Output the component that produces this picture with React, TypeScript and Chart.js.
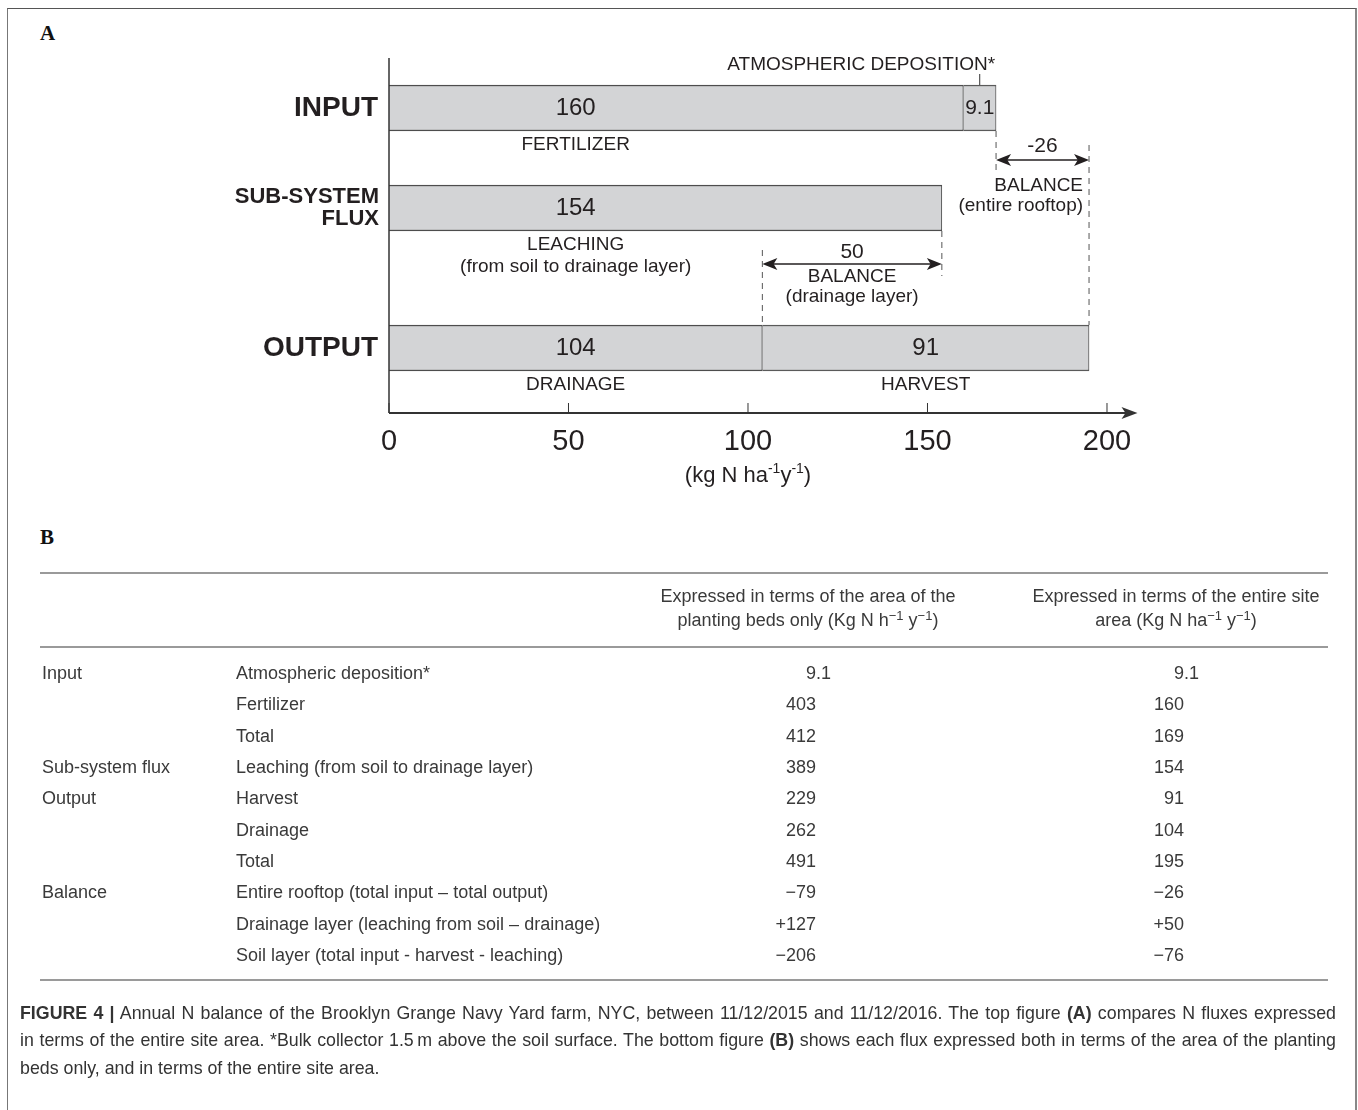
import React, { useEffect, useRef } from "react";
import { Chart, registerables } from "chart.js";

Chart.register(...registerables);

// ---------- Panel A values (kg N ha-1 y-1, entire site area) ----------
const ROW_NAMES = [["INPUT"], ["SUB-SYSTEM", "FLUX"], ["OUTPUT"]];
const INPUT_VALUES = [160, 9.1];
const INPUT_NAMES = ["FERTILIZER", "ATMOSPHERIC DEPOSITION*"];
const FLUX_VALUES = [154];
const FLUX_NAMES = [["LEACHING", "(from soil to drainage layer)"]];
const OUTPUT_VALUES = [104, 91];
const OUTPUT_NAMES = ["DRAINAGE", "HARVEST"];
const X_TICKS = [0, 50, 100, 150, 200];

// ---------- Panel B table ----------
const TABLE_GROUPS = ["Input", "", "", "Sub-system flux", "Output", "", "", "Balance", "", ""];
const TABLE_ITEMS = [
  "Atmospheric deposition*",
  "Fertilizer",
  "Total",
  "Leaching (from soil to drainage layer)",
  "Harvest",
  "Drainage",
  "Total",
  "Entire rooftop (total input \u2013 total output)",
  "Drainage layer (leaching from soil \u2013 drainage)",
  "Soil layer (total input - harvest - leaching)",
];
const BEDS_VALUES = ["9.1", "403", "412", "389", "229", "262", "491", "\u221279", "+127", "\u2212206"];
const SITE_VALUES = ["9.1", "160", "169", "154", "91", "104", "195", "\u221226", "+50", "\u221276"];

// ---------- layout ----------
const ROW_TRACK = [1, 3, 5.8];
const TRACK_MAX = 7.1;
const X_MAX = 208.5;
const FONT = "'Liberation Sans', Arial, Helvetica, sans-serif";
const INK = "#231f20";

const sum = (a: number[]) => a.reduce((s, v) => s + v, 0);
const spans = (vals: number[]) => {
  let s = 0;
  return vals.map((v) => {
    const seg: [number, number] = [s, s + v];
    s += v;
    return seg;
  });
};

const ROWS = [INPUT_VALUES, FLUX_VALUES, OUTPUT_VALUES];

function drawArrowHead(ctx: CanvasRenderingContext2D, x: number, y: number, dir: number, len: number, half: number) {
  ctx.beginPath();
  ctx.moveTo(x, y);
  ctx.lineTo(x - dir * len, y - half);
  ctx.lineTo(x - dir * len * 0.75, y);
  ctx.lineTo(x - dir * len, y + half);
  ctx.closePath();
  ctx.fill();
}

function doubleArrow(ctx: CanvasRenderingContext2D, a: number, b: number, y: number) {
  ctx.save();
  ctx.strokeStyle = INK;
  ctx.fillStyle = INK;
  ctx.lineWidth = 1.6;
  ctx.beginPath();
  ctx.moveTo(a + 6, y);
  ctx.lineTo(b - 6, y);
  ctx.stroke();
  drawArrowHead(ctx, a, y, -1, 15, 6);
  drawArrowHead(ctx, b, y, 1, 15, 6);
  ctx.restore();
}

function dashed(ctx: CanvasRenderingContext2D, x: number, y0: number, y1: number) {
  ctx.save();
  ctx.strokeStyle = "#555";
  ctx.lineWidth = 1;
  ctx.setLineDash([6, 5]);
  ctx.beginPath();
  ctx.moveTo(x, y0);
  ctx.lineTo(x, y1);
  ctx.stroke();
  ctx.restore();
}

function text(ctx: CanvasRenderingContext2D, s: string, x: number, y: number, size: number, align: CanvasTextAlign = "center", bold = false) {
  ctx.font = `${bold ? "bold " : ""}${size}px ${FONT}`;
  ctx.textAlign = align;
  ctx.textBaseline = "middle";
  ctx.fillStyle = INK;
  ctx.fillText(s, x, y);
}

const fluxAnnotations = {
  id: "fluxAnnotations",
  afterDatasetsDraw(chart: any) {
    const { ctx, chartArea } = chart;
    const xs = chart.scales.x;
    const px = (v: number) => xs.getPixelForValue(v);
    const lead = chart.getDatasetMeta(0).data;
    const bar = (r: number) => {
      const p = lead[r].getProps(["y", "height"], true);
      return { top: p.y - p.height / 2, bottom: p.y + p.height / 2, mid: p.y };
    };

    ctx.save();

    // axes
    ctx.strokeStyle = "#333";
    ctx.fillStyle = "#333";
    ctx.lineWidth = 1.5;
    ctx.beginPath();
    ctx.moveTo(px(0), chartArea.top);
    ctx.lineTo(px(0), chartArea.bottom);
    ctx.stroke();
    ctx.lineWidth = 2;
    ctx.beginPath();
    ctx.moveTo(px(0), chartArea.bottom);
    ctx.lineTo(chartArea.right - 8, chartArea.bottom);
    ctx.stroke();
    drawArrowHead(ctx, chartArea.right, chartArea.bottom, 1, 16, 6);
    ctx.lineWidth = 1;
    X_TICKS.forEach((v) => {
      ctx.beginPath();
      ctx.moveTo(px(v), chartArea.bottom - 10);
      ctx.lineTo(px(v), chartArea.bottom);
      ctx.stroke();
    });

    // axis title with superscripts
    {
      const cx = (px(X_TICKS[0]) + px(X_TICKS[X_TICKS.length - 1])) / 2;
      const cy = chartArea.bottom + 63;
      const parts: [string, boolean][] = [["(kg N ha", false], ["-1", true], ["y", false], ["-1", true], [")", false]];
      const big = `22px ${FONT}`;
      const small = `14px ${FONT}`;
      let w = 0;
      parts.forEach(([s, sup]) => {
        ctx.font = sup ? small : big;
        w += ctx.measureText(s).width;
      });
      let x = cx - w / 2;
      ctx.fillStyle = INK;
      ctx.textAlign = "left";
      ctx.textBaseline = "middle";
      parts.forEach(([s, sup]) => {
        ctx.font = sup ? small : big;
        ctx.fillText(s, x, sup ? cy - 7 : cy);
        x += ctx.measureText(s).width;
      });
    }

    // row names
    ROW_NAMES.forEach((lines, r) => {
      const b = bar(r);
      if (lines.length === 1) {
        text(ctx, lines[0], chartArea.left - 11, b.mid, 28, "right", true);
      } else {
        lines.forEach((l, i) => text(ctx, l, chartArea.left - 10, b.mid + (i - (lines.length - 1) / 2) * 22, 22, "right", true));
      }
    });

    // value and name labels
    const labelX = px(Math.min(...ROWS.map((v) => v[0])) / 2);
    const under = (r: number) => bar(r).bottom + 14;

    // input row
    const inSeg = spans(INPUT_VALUES);
    text(ctx, String(INPUT_VALUES[0]), labelX, bar(0).mid, 24);
    text(ctx, INPUT_NAMES[0], labelX, under(0), 19);
    const depX = px((inSeg[1][0] + inSeg[1][1]) / 2);
    text(ctx, String(INPUT_VALUES[1]), depX, bar(0).mid, 21);
    text(ctx, INPUT_NAMES[1], px(inSeg[1][1]) - 1, bar(0).top - 20, 19, "right");
    ctx.strokeStyle = "#333";
    ctx.lineWidth = 1;
    ctx.beginPath();
    ctx.moveTo(depX, bar(0).top - 11);
    ctx.lineTo(depX, bar(0).top);
    ctx.stroke();

    // flux row
    text(ctx, String(FLUX_VALUES[0]), labelX, bar(1).mid, 24);
    FLUX_NAMES[0].forEach((l, i) => text(ctx, l, labelX, under(1) + i * 22, 19));

    // output row
    const outSeg = spans(OUTPUT_VALUES);
    text(ctx, String(OUTPUT_VALUES[0]), labelX, bar(2).mid, 24);
    text(ctx, OUTPUT_NAMES[0], labelX, under(2), 19);
    const harvX = px((outSeg[1][0] + outSeg[1][1]) / 2);
    text(ctx, String(OUTPUT_VALUES[1]), harvX, bar(2).mid, 24);
    text(ctx, OUTPUT_NAMES[1], harvX, under(2), 19);

    // balance: entire rooftop = total input - total output
    const totalIn = sum(INPUT_VALUES);
    const totalOut = sum(OUTPUT_VALUES);
    {
      const a = px(totalIn);
      const b = px(totalOut);
      const y = bar(0).bottom + 29;
      dashed(ctx, a, bar(0).bottom, y + 12);
      dashed(ctx, b, y - 15, bar(2).top);
      doubleArrow(ctx, a, b, y);
      text(ctx, String(Math.round(totalIn - totalOut)), (a + b) / 2, y - 14, 21);
      text(ctx, "BALANCE", b - 6, y + 26, 19, "right");
      text(ctx, "(entire rooftop)", b - 6, y + 46, 19, "right");
    }

    // balance: drainage layer = leaching - drainage
    {
      const leach = FLUX_VALUES[0];
      const drain = OUTPUT_VALUES[0];
      const a = px(drain);
      const b = px(leach);
      const y = bar(1).bottom + 33;
      dashed(ctx, b, bar(1).bottom, y + 12);
      dashed(ctx, a, y - 14, bar(2).top);
      doubleArrow(ctx, a, b, y);
      text(ctx, String(Math.round(leach - drain)), (a + b) / 2, y - 12, 21);
      text(ctx, "BALANCE", (a + b) / 2, y + 13, 19);
      text(ctx, "(drainage layer)", (a + b) / 2, y + 33, 19);
    }

    ctx.restore();
  },
};

function FluxChart() {
  const ref = useRef<HTMLCanvasElement | null>(null);
  useEffect(() => {
    if (!ref.current) return;
    const maxSegs = Math.max(...ROWS.map((r) => r.length));
    const datasets = Array.from({ length: maxSegs }, (_, k) => ({
      label: k === 0 ? "leading" : "trailing",
      data: ROWS.flatMap((vals, r) => (k < vals.length ? [{ x: spans(vals)[k], y: ROW_TRACK[r] }] : [])),
      backgroundColor: "#d3d4d6",
      borderColor: k === 0 ? "#4d4d4d" : "#5a5a5a",
      borderWidth: { top: 1.5, bottom: 1.5, left: 0, right: 1 },
      borderSkipped: false as const,
      barThickness: 46,
      grouped: false,
    }));
    const chart = new Chart(ref.current, {
      type: "bar",
      data: { datasets: datasets as any },
      options: {
        indexAxis: "y",
        animation: false,
        responsive: false,
        maintainAspectRatio: false,
        events: [],
        layout: { padding: { left: 389, right: 1358 - 1137.5, top: 58, bottom: 0 } },
        plugins: { legend: { display: false }, tooltip: { enabled: false }, title: { display: false } },
        scales: {
          x: {
            type: "linear",
            min: 0,
            max: X_MAX,
            grid: { display: false, drawTicks: false },
            border: { display: false },
            afterBuildTicks: (s: any) => {
              s.ticks = X_TICKS.map((v) => ({ value: v }));
            },
            afterFit: (s: any) => {
              s.height = 500 - 413;
            },
            ticks: {
              color: INK,
              font: { family: FONT, size: 29 },
              padding: 12,
              maxRotation: 0,
              autoSkip: false,
            },
          },
          y: {
            type: "linear",
            reverse: true,
            offset: false,
            min: 0,
            max: TRACK_MAX,
            display: false,
          },
        },
      },
      plugins: [fluxAnnotations],
    });
    return () => chart.destroy();
  }, []);
  return <canvas ref={ref} width={1358} height={500} style={{ position: "absolute", left: 0, top: 0, width: 1358, height: 500 }} />;
}

const abs = (extra: React.CSSProperties): React.CSSProperties => ({ position: "absolute", ...extra });

function NumberCell({ value, edge, y }: { value: string; edge: number; y: number }) {
  const [intPart, frac] = value.split(".");
  return (
    <>
      <div style={abs({ right: 1358 - edge, top: y, whiteSpace: "nowrap" })}>{intPart}</div>
      {frac !== undefined && <div style={abs({ left: edge, top: y, whiteSpace: "nowrap" })}>.{frac}</div>}
    </>
  );
}

const sup = (s: string) => <span style={{ fontSize: 13, position: "relative", top: -6 }}>{s}</span>;

function FluxTable() {
  const rowY = (i: number) => 673 + i * 31.33 - 10;
  const rule = (y: number) => <div style={abs({ left: 40, top: y, width: 1288, height: 1.5, background: "#9a9a9a" })} />;
  return (
    <div style={abs({ left: 0, top: 0, width: 1358, height: 1110, fontFamily: FONT, fontSize: 18, lineHeight: "20px", color: "#3a3a3a" })}>
      {rule(572)}
      {rule(646)}
      {rule(979)}
      <div style={abs({ left: 558, top: 586, width: 500, textAlign: "center", whiteSpace: "nowrap" })}>Expressed in terms of the area of the</div>
      <div style={abs({ left: 558, top: 610, width: 500, textAlign: "center", whiteSpace: "nowrap" })}>
        planting beds only (Kg N h{sup("\u22121")} y{sup("\u22121")})
      </div>
      <div style={abs({ left: 926, top: 586, width: 500, textAlign: "center", whiteSpace: "nowrap" })}>Expressed in terms of the entire site</div>
      <div style={abs({ left: 926, top: 610, width: 500, textAlign: "center", whiteSpace: "nowrap" })}>
        area (Kg N ha{sup("\u22121")} y{sup("\u22121")})
      </div>
      {TABLE_ITEMS.map((item, i) => (
        <React.Fragment key={i}>
          {TABLE_GROUPS[i] && <div style={abs({ left: 42, top: rowY(i), whiteSpace: "nowrap" })}>{TABLE_GROUPS[i]}</div>}
          <div style={abs({ left: 236, top: rowY(i), whiteSpace: "nowrap" })}>{item}</div>
          <NumberCell value={BEDS_VALUES[i]} edge={816} y={rowY(i)} />
          <NumberCell value={SITE_VALUES[i]} edge={1184} y={rowY(i)} />
        </React.Fragment>
      ))}
    </div>
  );
}

function Caption() {
  const line: React.CSSProperties = { position: "absolute", left: 20, width: 1316, fontFamily: FONT, fontSize: 17.8, lineHeight: "20px", color: "#333" };
  const just: React.CSSProperties = { ...line, textAlign: "justify", textAlignLast: "justify" as any };
  return (
    <>
      <div style={{ ...just, top: 1003 }}>
        <b>FIGURE 4 |</b> Annual N balance of the Brooklyn Grange Navy Yard farm, NYC, between 11/12/2015 and 11/12/2016. The top figure <b>(A)</b> compares N fluxes expressed
      </div>
      <div style={{ ...just, top: 1030 }}>
        in terms of the entire site area. *Bulk collector 1.5&#8201;m above the soil surface. The bottom figure <b>(B)</b> shows each flux expressed both in terms of the area of the planting
      </div>
      <div style={{ ...line, top: 1058 }}>beds only, and in terms of the entire site area.</div>
    </>
  );
}

export default function App() {
  const panelLetter: React.CSSProperties = { position: "absolute", left: 40, fontFamily: "'Liberation Serif', 'Times New Roman', serif", fontWeight: "bold", fontSize: 21, lineHeight: "24px", color: "#111" };
  return (
    <div style={{ position: "absolute", left: 0, top: 0, width: 1358, height: 1110, overflow: "hidden", background: "#fff" }}>
      <div
        style={{
          position: "absolute",
          left: 7,
          top: 8,
          width: 1350,
          height: 1200,
          boxSizing: "border-box",
          borderTop: "1.5px solid #555",
          borderLeft: "1.5px solid #777",
          borderRight: "2px solid #888",
        }}
      />
      <div style={{ ...panelLetter, top: 21 }}>A</div>
      <div style={{ ...panelLetter, top: 525 }}>B</div>
      <FluxChart />
      <FluxTable />
      <Caption />
    </div>
  );
}
